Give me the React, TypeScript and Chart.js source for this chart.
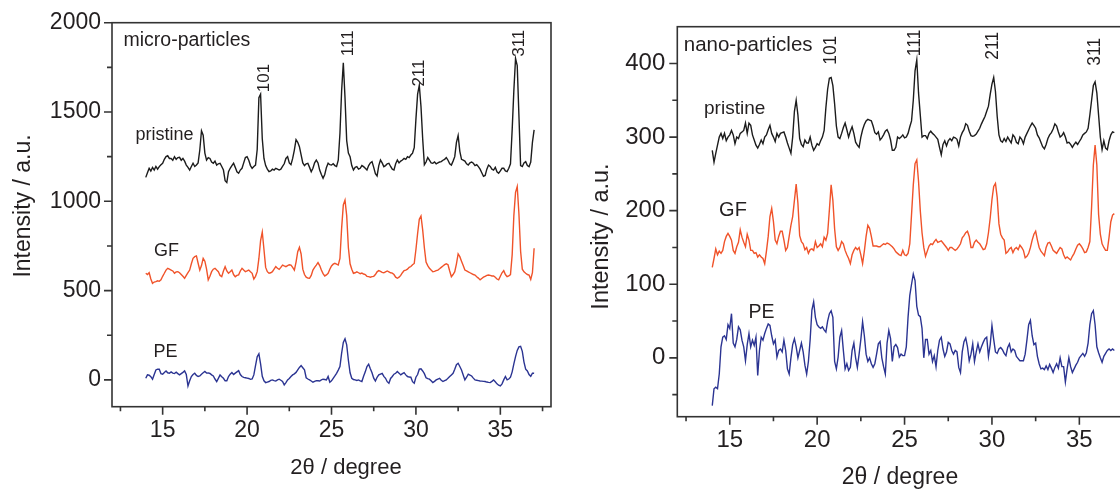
import React, { useEffect, useRef } from 'react';
import { Chart, registerables } from 'chart.js';

Chart.register(...registerables);

// 2θ sampling grid of the scans (degrees)
const TWO_THETA_START = 14.0;
const TWO_THETA_STEP = 0.1;

// ---------- micro-particles (one row = 1 degree, 0.1° steps) ----------
const MICRO_PRISTINE = [
  1134, 1160, 1185, 1170, 1190, 1175, 1195, 1180, 1194, 1205,
  1213, 1235, 1250, 1255, 1240, 1240, 1230, 1250, 1235, 1245,
  1246, 1230, 1240, 1225, 1203, 1190, 1175, 1195, 1213, 1195,
  1203, 1215, 1287, 1395, 1370, 1270, 1231, 1245, 1240, 1220,
  1213, 1225, 1203, 1210, 1213, 1195, 1175, 1115, 1105, 1166,
  1185, 1200, 1213, 1190, 1165, 1157, 1175, 1185, 1215, 1245,
  1250, 1230, 1200, 1185, 1195, 1203, 1290, 1580, 1600, 1350,
  1240, 1200, 1180, 1166, 1170, 1180, 1175, 1185, 1180, 1175,
  1180, 1195, 1210, 1240, 1250, 1215, 1205, 1240, 1287, 1345,
  1330, 1306, 1260, 1215, 1200, 1210, 1213, 1190, 1166, 1185,
  1215, 1231, 1215, 1175, 1150, 1129, 1150, 1190, 1213, 1205,
  1203, 1210, 1200, 1195, 1230, 1380, 1620, 1776, 1580, 1340,
  1270, 1250, 1200, 1175, 1190, 1194, 1180, 1185, 1200, 1194,
  1185, 1175, 1200, 1215, 1222, 1190, 1155, 1142, 1200, 1231,
  1215, 1194, 1200, 1210, 1213, 1195, 1180, 1175, 1210, 1231,
  1215, 1225, 1231, 1240, 1235, 1250, 1245, 1259, 1270, 1300,
  1460, 1600, 1650, 1530, 1350, 1205, 1220, 1245, 1230, 1215,
  1213, 1220, 1210, 1215, 1220, 1222, 1230, 1235, 1245, 1230,
  1210, 1203, 1225, 1250, 1330, 1368, 1280, 1235, 1231, 1225,
  1210, 1203, 1215, 1220, 1213, 1200, 1205, 1194, 1180, 1160,
  1140, 1145, 1180, 1203, 1195, 1180, 1175, 1190, 1165, 1157,
  1170, 1185, 1185, 1170, 1166, 1185, 1210, 1400, 1620, 1800,
  1760, 1480, 1200, 1195, 1215, 1222, 1200, 1194, 1220, 1330,
  1400,
];

const MICRO_GF = [
  597, 590, 600, 565, 541, 548, 550, 555, 552, 560,
  580, 597, 615, 625, 620, 615, 610, 597, 605, 606,
  600, 590, 580, 569, 585, 600, 615, 650, 681, 690,
  694, 653, 615, 640, 681, 665, 620, 560, 580, 606,
  620, 625, 615, 606, 585, 578, 610, 634, 610, 597,
  605, 615, 590, 578, 585, 588, 610, 625, 615, 606,
  610, 615, 605, 597, 565, 580, 606, 680, 780, 828,
  730, 630, 606, 597, 600, 606, 620, 634, 625, 619,
  630, 643, 638, 634, 640, 645, 643, 630, 615, 660,
  718, 742, 705, 620, 590, 575, 570, 569, 585, 615,
  630, 643, 657, 640, 615, 595, 582, 588, 597, 620,
  638, 648, 653, 648, 643, 680, 850, 980, 1007, 920,
  740, 650, 620, 597, 600, 605, 600, 595, 598, 593,
  590, 580, 578, 575, 578, 580, 590, 605, 612, 608,
  602, 600, 605, 610, 605, 600, 598, 590, 575, 569,
  575, 585, 600, 612, 615, 620, 630, 635, 645, 652,
  730, 820, 900, 918, 840, 740, 660, 640, 625, 615,
  606, 608, 612, 615, 622, 630, 638, 645, 650, 645,
  610, 578, 590, 606, 650, 705, 690, 665, 640, 615,
  610, 605, 600, 595, 590, 587, 578, 570, 560, 568,
  575, 580, 585, 587, 585, 582, 582, 575, 565, 560,
  580, 600, 612, 590, 578, 582, 590, 700, 920, 1050,
  1083, 930, 720, 620, 605, 597, 590, 587, 563, 600,
  737,
];

const MICRO_PE = [
  9, 28, 26, 18, 4, 30, 56, 60, 60, 35,
  32, 42, 50, 40, 37, 45, 38, 36, 43, 35,
  28, 35, 42, 50, 30, -34, -5, 19, 30, 37,
  25, 19, 22, 32, 40, 47, 38, 39, 36, 28,
  22, 5, -9, 9, 28, 18, 9, -5, -5, 19,
  32, 41, 30, 38, 45, 52, 30, 19, 14, 12,
  10, 8, 3, 5, 28, 80, 130, 146, 90, 20,
  -5, -15, -12, -9, -3, 0, -4, -6, 0, 4,
  -2, -9, -28, -15, 0, 8, 19, 28, 34, 42,
  56, 70, 80, 68, 56, 12, 5, 0, -6, -13,
  -8, -4, -5, -6, 0, 4, 2, 0, 19, -13,
  -5, 9, 22, 37, 55, 75, 150, 210, 230, 196,
  110, 40, 9, 2, 0, -3, 0, -5, -9, 20,
  45, 75, 88, 62, 40, 10, -6, 15, 28, 33,
  37, 20, 9, -10, -19, 8, 19, 32, 37, 47,
  38, 28, 35, 41, 28, 19, 16, 15, -10, -19,
  15, 30, 60, 62, 50, 35, 12, 7, 4, -5,
  -15, -8, 0, 5, 9, -2, -9, -4, 0, 10,
  19, 28, 37, 60, 85, 93, 75, 56, 28, 0,
  15, 32, 27, 22, 10, 0, -2, -4, -6, -7,
  -8, -9, -12, -14, -15, -8, 0, -10, -22, -30,
  -34, -22, 0, 19, 0, 5, 15, 45, 90, 130,
  165, 185, 188, 160, 100, 60, 50, 30, 20, 38,
  37,
];

// ---------- nano-particles ----------
const NANO_PRISTINE = [
  282, 266, 278, 289, 300, 305, 298, 305, 295, 300,
  303, 309, 303, 291, 300, 298, 305, 307, 309, 319,
  305, 319, 316, 303, 296, 289, 285, 290, 296, 291,
  300, 303, 310, 316, 305, 300, 294, 305, 300, 305,
  306, 307, 300, 292, 285, 278, 300, 335, 350, 330,
  298, 290, 287, 296, 292, 292, 300, 289, 282, 286,
  291, 289, 295, 300, 309, 340, 365, 380, 381, 370,
  345, 315, 300, 298, 305, 313, 319, 310, 300, 308,
  314, 305, 293, 289, 286, 300, 310, 317, 322, 324,
  323, 322, 315, 306, 304, 307, 296, 299, 303, 308,
  310, 305, 296, 282, 282, 286, 300, 298, 300, 303,
  299, 300, 305, 314, 322, 350, 390, 405, 360, 330,
  300, 302, 302, 298, 305, 308, 305, 303, 300, 297,
  286, 276, 290, 295, 288, 295, 298, 295, 300, 299,
  297, 288, 300, 306, 310, 318, 316, 308, 302, 301,
  302, 304, 308, 312, 318, 323, 328, 335, 342, 358,
  372, 381, 362, 328, 303, 295, 293, 298, 294, 300,
  296, 292, 303, 300, 293, 291, 300, 297, 291, 300,
  305, 310, 315, 319, 316, 312, 303, 299, 293, 287,
  284, 290, 298, 303, 306, 311, 318, 315, 307, 300,
  302, 306, 300, 292, 293, 290, 286, 290, 293, 290,
  294, 298, 303, 305, 307, 312, 330, 350, 370, 375,
  360, 330, 300, 283, 295, 285, 283, 295, 303, 307,
  306,
];

const NANO_GF = [
  123, 135, 148, 140, 145, 142, 146, 158, 165, 169,
  165, 160, 146, 142, 151, 157, 174, 164, 157, 151,
  168, 160, 146, 146, 142, 143, 137, 140, 137, 135,
  128, 145, 165, 192, 203, 185, 160, 155, 165, 172,
  172, 160, 146, 150, 165, 180, 192, 214, 236, 210,
  166, 158, 155, 147, 150, 142, 147, 148, 146, 158,
  150, 152, 155, 151, 164, 160, 169, 201, 235, 214,
  175, 151, 146, 150, 158, 155, 146, 140, 135, 128,
  140, 146, 150, 147, 150, 140, 128, 145, 165, 180,
  176, 165, 152, 152, 152, 151, 151, 153, 155, 154,
  156, 155, 153, 151, 148, 144, 142, 140, 139, 146,
  140, 139, 142, 155, 195, 235, 264, 269, 240, 200,
  170, 150, 138, 145, 152, 155, 154, 158, 161, 157,
  158, 159, 156, 153, 150, 146, 150, 150, 148, 146,
  148, 151, 155, 163, 166, 170, 172, 165, 150, 150,
  157, 160, 157, 155, 151, 147, 148, 155, 170, 190,
  215, 233, 237, 218, 182, 168, 163, 160, 142, 144,
  148, 150, 143, 148, 150, 147, 153, 150, 146, 136,
  138, 142, 150, 160, 168, 172, 160, 150, 145, 142,
  139, 150, 156, 157, 152, 146, 144, 142, 146, 150,
  148, 140, 135, 137, 135, 133, 138, 142, 148, 153,
  155, 152, 148, 143, 144, 150, 158, 205, 262, 289,
  262, 195, 168, 155, 150, 146, 146, 164, 185, 194,
  196,
];

const NANO_PE = [
  -65, -42, -40, -42, -22, 15, 28, 30, 25, 45,
  40, 60, 20, 15, 25, 42, 38, 24, 15, -4,
  18, 33, 15, 24, 17, 28, -24, 10, 28, 24,
  33, 40, 46, 44, 30, 19, 24, 1, 10, 12,
  8, 24, 10, -15, -22, 0, 18, 26, 15, 0,
  10, 20, 8, -10, -22, -5, 25, 65, 76, 55,
  45, 42, 40, 42, 38, 35, 50, 60, 64, 55,
  -5, -15, 1, 28, 37, 10, -15, -8, -17, -13,
  10, 20, 0, -13, 5, 25, 49, 30, 5, -5,
  0, -8, -13, -8, 5, 19, 22, 0, -12, -22,
  20, 37, 26, -5, 15, 18, 14, 1, 5, 3,
  3, 15, 55, 85, 100, 114, 105, 70, 58, 56,
  40, 0, 25, 25, 5, 10, -5, 3, -12, 10,
  24, 28, 12, 2, 8, 21, 19, 10, 5, 10,
  8, -13, -20, 8, 22, 27, 15, -4, 5, 19,
  -5, 8, 19, 8, 15, 21, 26, 28, 2, 18,
  44, 25, 8, 6, 12, 14, 11, 6, 3, 14,
  19, 8, 12, 10, 2, -1, -4, -4, -4, 5,
  24, 45, 51, 30, 18, 20, 2, -8, -15, -14,
  -16, -11, -16, -9, -14, -20, -13, -8, -14, 0,
  -12, -12, -33, -15, 0, -12, -20, -15, -10, -6,
  0, 3, 6, 2, 7, 20, 45, 60, 64, 45,
  15, 7, 0, -6, 2, 6, 10, 12, 10, 12,
  10,
];

// ---------- axis ticks ----------
const X_LABEL_TICKS = [15, 20, 25, 30, 35];
const X_MINOR_TICKS = [12.5, 17.5, 22.5, 27.5, 32.5, 37.5];
const MICRO_Y_LABEL_TICKS = [0, 500, 1000, 1500, 2000];
const MICRO_Y_MINOR_TICKS = [250, 750, 1250, 1750];
const NANO_Y_LABEL_TICKS = [0, 100, 200, 300, 400];
const NANO_Y_MINOR_TICKS = [-50, 50, 150, 250, 350];

const X_TITLE = '2θ / degree';
const Y_TITLE = 'Intensity / a.u.';

const FONT = '"Liberation Sans", Arial, Helvetica, sans-serif';
const TEXT = '#231f20';
const AXIS = '#333333';
const C_PRISTINE = '#1c1c1c';
const C_GF = '#f0532a';
const C_PE = '#2b3492';

type Note = { text: string; x: number; y: number; size: number; rotate?: boolean };

const MICRO_NOTES: Note[] = [
  { text: 'micro-particles', x: 12.68, y: 1869, size: 19.5 },
  { text: 'pristine', x: 13.39, y: 1346, size: 18 },
  { text: 'GF', x: 14.49, y: 694, size: 18 },
  { text: 'PE', x: 14.46, y: 127, size: 18 },
  { text: '101', x: 21.03, y: 1690, size: 17, rotate: true },
  { text: '111', x: 25.98, y: 1885, size: 17, rotate: true },
  { text: '211', x: 30.22, y: 1718, size: 17, rotate: true },
  { text: '311', x: 36.15, y: 1885, size: 17, rotate: true },
];

const NANO_NOTES: Note[] = [
  { text: 'nano-particles', x: 12.37, y: 417, size: 20.5 },
  { text: 'pristine', x: 13.53, y: 332, size: 19 },
  { text: 'GF', x: 14.39, y: 193, size: 20 },
  { text: 'PE', x: 16.07, y: 54, size: 19.5 },
  { text: '101', x: 20.79, y: 418, size: 17.5, rotate: true },
  { text: '111', x: 25.62, y: 428, size: 17.5, rotate: true },
  { text: '211', x: 30.06, y: 424, size: 17.5, rotate: true },
  { text: '311', x: 35.89, y: 416, size: 17.5, rotate: true },
];

type Panel = {
  series: { label: string; values: number[]; color: string }[];
  yMin: number; yMax: number;
  yLabelTicks: number[]; yMinorTicks: number[];
  notes: Note[];
  canvasW: number;
  padTop: number; padRight: number;
  yAxisW: number; xAxisH: number;
  tickSize: number; xTickPad: number; yTickPad: number;
  // axis titles: pixel anchors inside the canvas (alphabetic baseline)
  yTitleSize: number; yTitleBaseX: number; yTitleCenterY: number;
  xTitleSize: number; xTitleCenterX: number; xTitleBaseY: number;
};

const MICRO_PANEL: Panel = {
  series: [
    { label: 'pristine', values: MICRO_PRISTINE, color: C_PRISTINE },
    { label: 'GF', values: MICRO_GF, color: C_GF },
    { label: 'PE', values: MICRO_PE, color: C_PE },
  ],
  yMin: -150, yMax: 2000,
  yLabelTicks: MICRO_Y_LABEL_TICKS, yMinorTicks: MICRO_Y_MINOR_TICKS,
  notes: MICRO_NOTES,
  canvasW: 560,
  padTop: 22.7, padRight: 9,
  yAxisW: 112, xAxisH: 83.3,
  tickSize: 23, xTickPad: 2, yTickPad: 3,
  yTitleSize: 23, yTitleBaseX: 30, yTitleCenterY: 206,
  xTitleSize: 22, xTitleCenterX: 346, xTitleBaseY: 474,
};

const NANO_PANEL: Panel = {
  series: [
    { label: 'pristine', values: NANO_PRISTINE, color: C_PRISTINE },
    { label: 'GF', values: NANO_GF, color: C_GF },
    { label: 'PE', values: NANO_PE, color: C_PE },
  ],
  yMin: -80, yMax: 450,
  yLabelTicks: NANO_Y_LABEL_TICKS, yMinorTicks: NANO_Y_MINOR_TICKS,
  notes: NANO_NOTES,
  canvasW: 580,
  padTop: 26.7, padRight: 8.2,
  yAxisW: 117.3, xAxisH: 73.3,
  tickSize: 24, xTickPad: 1, yTickPad: 4,
  yTitleSize: 23.5, yTitleBaseX: 47.5, yTitleCenterY: 236.5,
  xTitleSize: 23, xTitleCenterX: 340, xTitleBaseY: 484,
};

function makeFramePlugin(p: Panel) {
  return {
    id: 'frame',
    afterDraw(chart: any) {
      const { ctx, chartArea: a } = chart;
      const xs = chart.scales.x;
      const ys = chart.scales.y;
      ctx.save();
      ctx.strokeStyle = AXIS;
      ctx.lineWidth = 1.6;
      ctx.strokeRect(a.left, a.top, a.right - a.left, a.bottom - a.top);
      ctx.beginPath();
      const xt = (v: number, len: number) => {
        const px = xs.getPixelForValue(v);
        ctx.moveTo(px, a.bottom);
        ctx.lineTo(px, a.bottom + len);
      };
      const yt = (v: number, len: number) => {
        const py = ys.getPixelForValue(v);
        ctx.moveTo(a.left, py);
        ctx.lineTo(a.left - len, py);
      };
      X_LABEL_TICKS.forEach((v) => xt(v, 8));
      X_MINOR_TICKS.forEach((v) => xt(v, 4.5));
      p.yLabelTicks.forEach((v) => yt(v, 8));
      p.yMinorTicks.forEach((v) => yt(v, 5));
      ctx.stroke();

      // axis titles
      ctx.fillStyle = TEXT;
      ctx.textBaseline = 'alphabetic';
      ctx.textAlign = 'center';
      ctx.font = `${p.xTitleSize}px ${FONT}`;
      ctx.fillText(X_TITLE, p.xTitleCenterX, p.xTitleBaseY);
      ctx.save();
      ctx.translate(p.yTitleBaseX, p.yTitleCenterY);
      ctx.rotate(-Math.PI / 2);
      ctx.font = `${p.yTitleSize}px ${FONT}`;
      ctx.fillText(Y_TITLE, 0, 0);
      ctx.restore();
      ctx.restore();
    },
  };
}

function makeNotesPlugin(notes: Note[]) {
  return {
    id: 'notes',
    afterDatasetsDraw(chart: any) {
      const { ctx } = chart;
      const xs = chart.scales.x;
      const ys = chart.scales.y;
      ctx.save();
      ctx.fillStyle = TEXT;
      notes.forEach((n) => {
        const px = xs.getPixelForValue(n.x);
        const py = ys.getPixelForValue(n.y);
        ctx.font = `${n.size}px ${FONT}`;
        if (n.rotate) {
          ctx.save();
          ctx.translate(px, py);
          ctx.rotate(-Math.PI / 2);
          ctx.textAlign = 'center';
          ctx.textBaseline = 'middle';
          ctx.fillText(n.text, 0, 0);
          ctx.restore();
        } else {
          ctx.textAlign = 'left';
          ctx.textBaseline = 'alphabetic';
          ctx.fillText(n.text, px, py);
        }
      });
      ctx.restore();
    },
  };
}

function makeChart(canvas: HTMLCanvasElement, p: Panel) {
  const datasets = p.series.map((s) => ({
    label: s.label,
    data: s.values.map((y, i) => ({
      x: Math.round((TWO_THETA_START + i * TWO_THETA_STEP) * 10) / 10,
      y,
    })),
    borderColor: s.color,
    borderWidth: 1.4,
    pointRadius: 0,
    tension: 0,
    fill: false,
  }));
  return new Chart(canvas, {
    type: 'line',
    data: { datasets },
    options: {
      responsive: false,
      animation: false,
      devicePixelRatio: 1,
      events: [],
      layout: { padding: { left: 0, top: p.padTop, right: p.padRight, bottom: 0 } },
      plugins: { legend: { display: false }, tooltip: { enabled: false } },
      scales: {
        x: {
          type: 'linear',
          min: 12,
          max: 38,
          afterBuildTicks: (s: any) => {
            s.ticks = X_LABEL_TICKS.map((v) => ({ value: v }));
          },
          afterFit: (s: any) => {
            s.height = p.xAxisH;
          },
          grid: { display: false, drawTicks: true, tickLength: 8 },
          border: { display: false },
          ticks: {
            autoSkip: false,
            maxRotation: 0,
            minRotation: 0,
            padding: p.xTickPad,
            color: TEXT,
            font: { family: FONT, size: p.tickSize },
            callback: (v: any) => String(v),
          },
          title: { display: false, text: X_TITLE },
        },
        y: {
          type: 'linear',
          min: p.yMin,
          max: p.yMax,
          afterBuildTicks: (s: any) => {
            s.ticks = p.yLabelTicks.map((v) => ({ value: v }));
          },
          afterFit: (s: any) => {
            s.width = p.yAxisW;
          },
          grid: { display: false, drawTicks: true, tickLength: 8 },
          border: { display: false },
          ticks: {
            autoSkip: false,
            padding: p.yTickPad,
            color: TEXT,
            font: { family: FONT, size: p.tickSize },
            callback: (v: any) => String(v),
          },
          title: { display: false, text: Y_TITLE },
        },
      },
    },
    plugins: [makeNotesPlugin(p.notes), makeFramePlugin(p)],
  } as any);
}

export default function App() {
  const leftRef = useRef<HTMLCanvasElement>(null);
  const rightRef = useRef<HTMLCanvasElement>(null);

  useEffect(() => {
    const charts = [
      makeChart(leftRef.current as HTMLCanvasElement, MICRO_PANEL),
      makeChart(rightRef.current as HTMLCanvasElement, NANO_PANEL),
    ];
    return () => charts.forEach((c) => c.destroy());
  }, []);

  return (
    <div
      style={{
        position: 'fixed',
        left: 0,
        top: 0,
        width: 1120,
        height: 490,
        overflow: 'hidden',
        background: '#ffffff',
      }}
    >
      <canvas
        ref={leftRef}
        width={MICRO_PANEL.canvasW}
        height={490}
        style={{ position: 'absolute', left: 0, top: 0, width: MICRO_PANEL.canvasW, height: 490 }}
      />
      <canvas
        ref={rightRef}
        width={NANO_PANEL.canvasW}
        height={490}
        style={{ position: 'absolute', left: 560, top: 0, width: NANO_PANEL.canvasW, height: 490 }}
      />
    </div>
  );
}
